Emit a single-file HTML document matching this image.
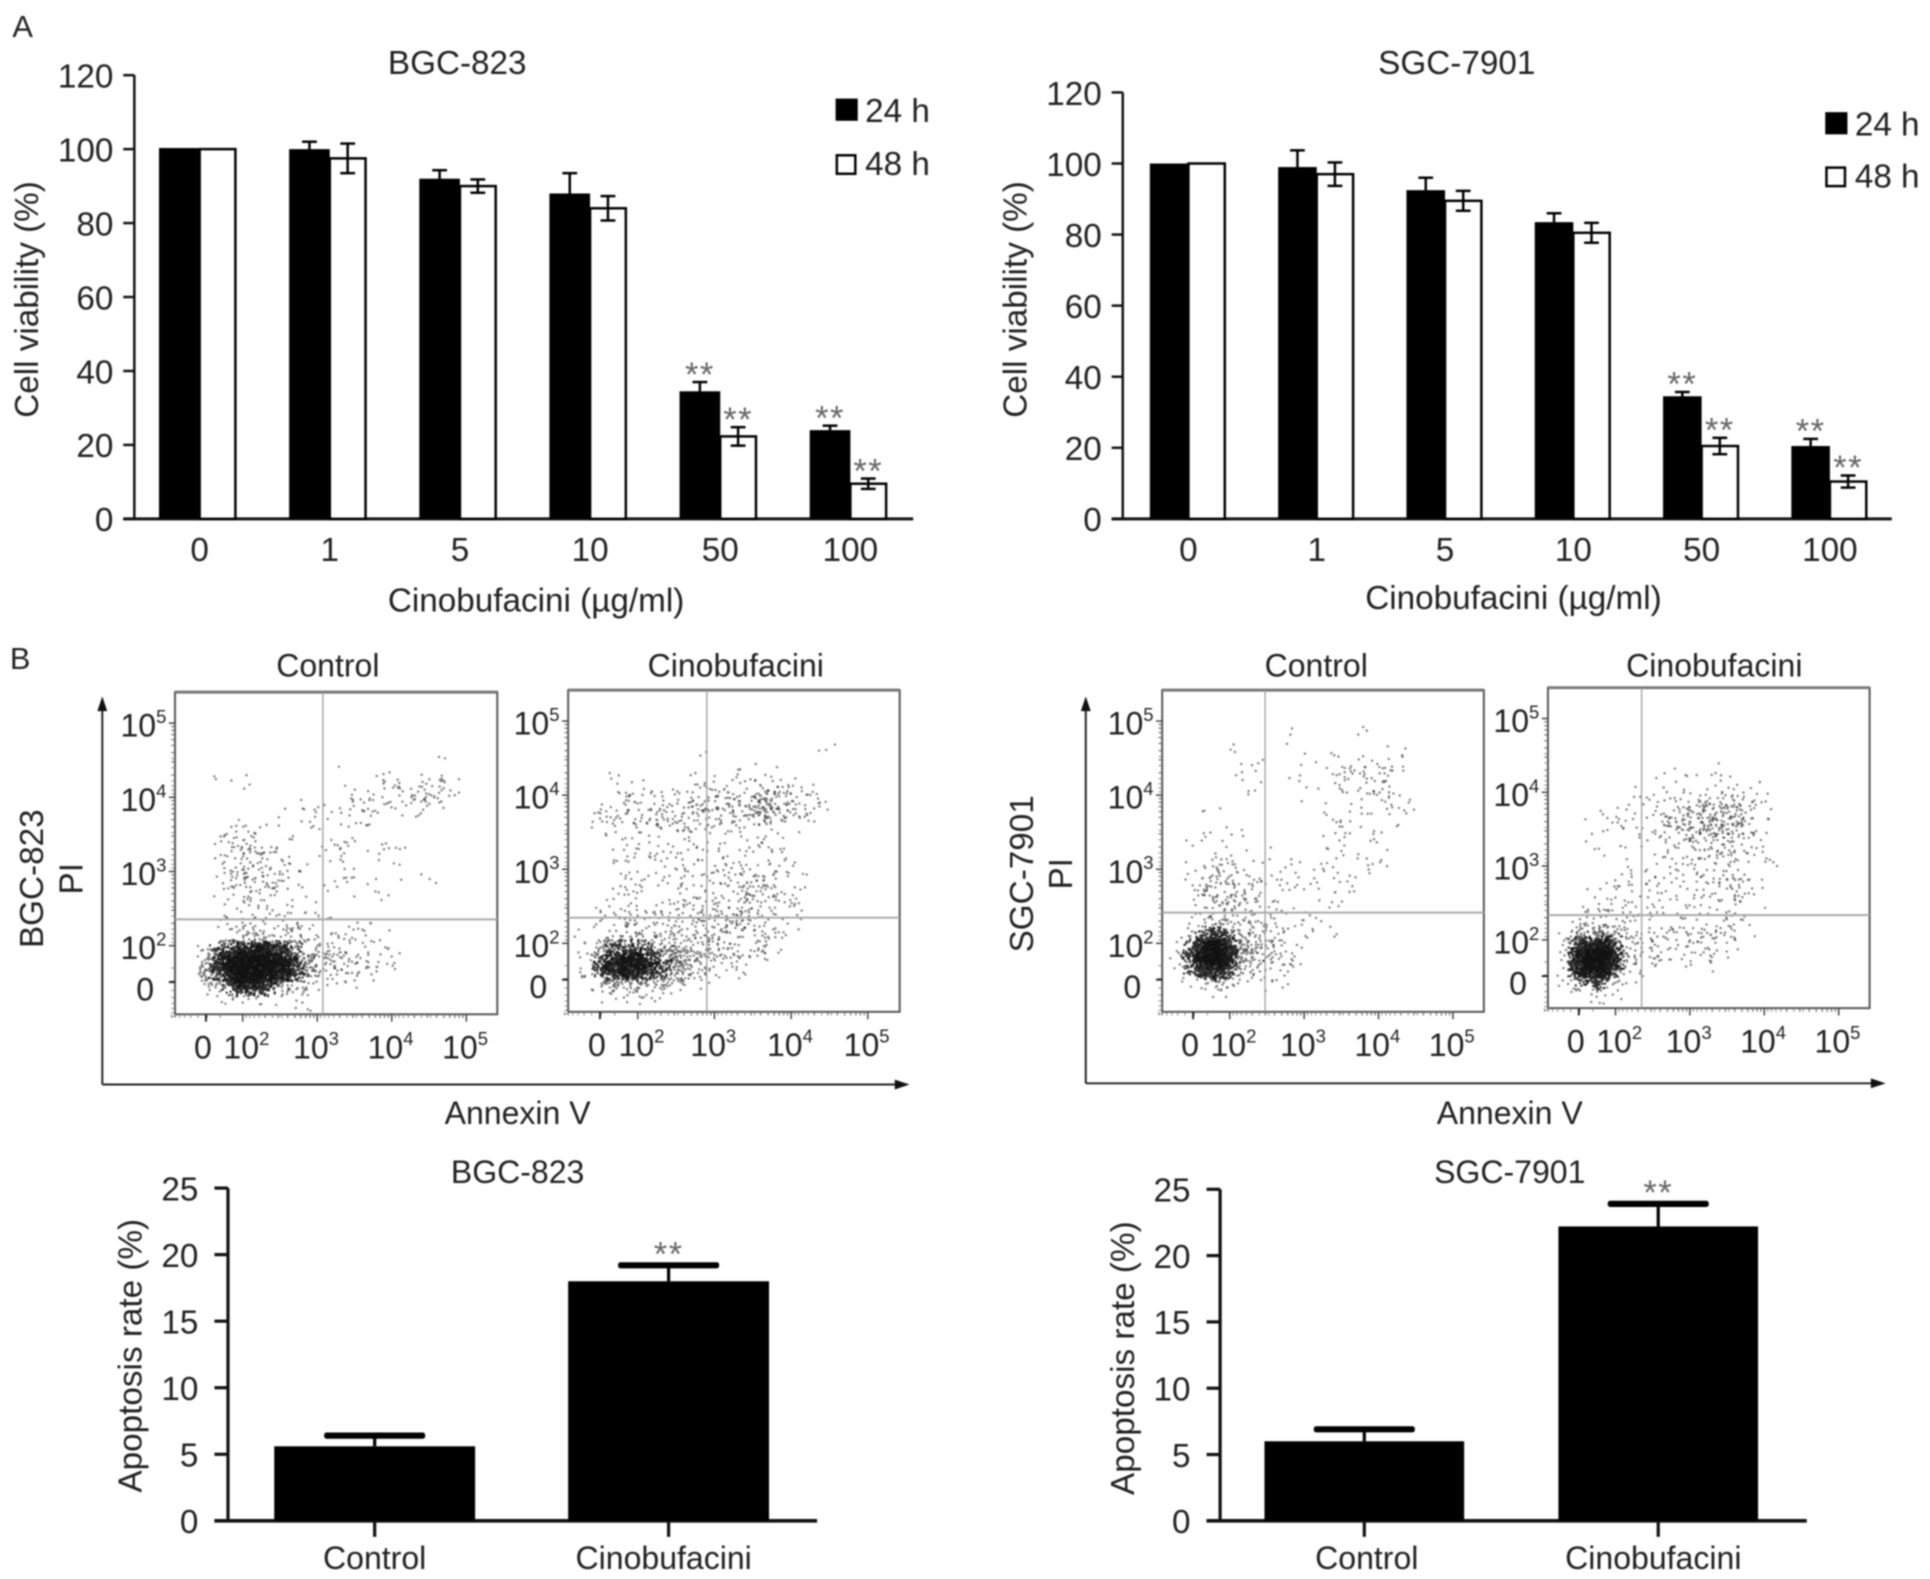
<!DOCTYPE html>
<html lang="en">
<head>
<meta charset="utf-8">
<title>Cinobufacini cell viability and apoptosis</title>
<style>
html,body{margin:0;padding:0;background:#fff;}
#figure{display:block;width:1930px;height:1579px;filter:blur(0.7px);}
text{font-family:"Liberation Sans",sans-serif;fill:#222;}
</style>
</head>
<body>
<svg id="figure" xmlns="http://www.w3.org/2000/svg" width="1930" height="1579" viewBox="0 0 1566 1281.2"></svg>
<script>
// ---- Panel A data ----
const viabilityCategories = ['0','1','5','10','50','100'];
const viabilityTicks = [0,20,40,60,80,100,120];
const bgcViability24 = [100.3,100,92,88,34.5,24];
const bgcViability24Err = [0,2,2.3,5.5,2.5,1.2];
const bgcViability48 = [100,97.5,90,84,22.3,9.5];
const bgcViability48Err = [0,4,1.8,3.3,2.5,1.4];
const sgcViability24 = [100,99,92.5,83.5,34.5,20.5];
const sgcViability24Err = [0,4.7,3.5,2.5,1.2,2];
const sgcViability48 = [100,97,89.5,80.5,20.5,10.5];
const sgcViability48Err = [0,3.3,2.8,2.8,2.3,1.7];
const starredCategories = ['50','100'];

// ---- Lower bar chart data ----
const apoptosisCategories = ['Control','Cinobufacini'];
const apoptosisTicks = [0,5,10,15,20,25];
const bgcApoptosis = [5.6,18];
const bgcApoptosisErr = [0.8,1.2];
const sgcApoptosis = [6,22.2];
const sgcApoptosisErr = [0.9,1.7];

// ---- Flow cytometry: event density read per grid cell (0-9), row by row from top ----
const flowDecades = [2,3,4,5];
const densityLevels = [0,3,6,10,16,26,42,70,160,300];
const bgcControlDensity = ["","","","","",
"00000000000000000001","000101000000100111121","000000000000011222331","00000000011012211121",
"000010010111011","0001221000011","00022221100111011","0002232210011001","0002333211001100101",
"0001222210011011","0000122111","00010111111","000122222111111","0003455432212111",
"00578998754332221","0068999986432221","0046898653211","000122111","00000000001"];
const bgcCinoDensity = ["","","","","0000000000000000001","0000000001",
"0001000001111111","000111111222233221","0012222233333564321","002323333333333221",
"001111111111111","0001111111111111","0001111111111111","00011111112222211",
"00011111112233221","00012111122233221","00132222223332221","00122222223333221",
"0123333333332221","026777665433221","0379987653222","02566543321","00122211",""];
const sgcControlDensity = ["","","000000000000001","0000000001","000001000000000001",
"000001010010111111","000000100010122321","000000100010011221","0000000000001011111",
"000100000000011001","0001110000001101","0010000000001101","00012101010011011",
"0012321101011101","002333211111011","0023332110001","0013332211111","00133322101",
"0058754321101","03899654321","0279843321","003542111","00011",""];
const sgcCinoDensity = ["","","","","","","0000000001001","0000000101111111",
"00000011122333211","0001111123345431","0001111123445442","0001010112333321",
"0000000011122221","00000111111221111","000011111112232","0001111111111121",
"001122211111111","002222111111211","015653221222221","03898432122221","0499942211111",
"02786211","002331",""];

// ---- helpers ----
const NS = 'http://www.w3.org/2000/svg';
const svg = document.getElementById('figure');
function mk(tag, attrs, name, parent) {
  const el = document.createElementNS(NS, tag);
  for (const k in attrs) el.setAttribute(k, attrs[k]);
  
  
  (parent || svg).appendChild(el);
  return el;
}
function txt(s, x, y, size, name, anchor, parent, rot, color) {
  const attrs = {x:x, y:y, 'font-size':size, 'text-anchor':anchor || 'middle'};
  if (rot) attrs.transform = 'rotate(-90 ' + x + ' ' + y + ')';
  if (color) attrs.style = 'fill:' + color;
  const t = mk('text', attrs, name, parent);
  t.textContent = s;
  return t;
}
function line(x1, y1, x2, y2, w, name, parent, color) {
  return mk('line', {x1:x1, y1:y1, x2:x2, y2:y2, stroke:color || '#111', 'stroke-width':w}, name, parent);
}
function stars(x, topY, name, parent) {
  const t = txt('**', x, topY + 3, 28, name, 'middle', parent, false, '#666');
  t.setAttribute('letter-spacing', '1.2');
  return t;
}

// ---- Panel A grouped bars ----
function viabilityChart(o) {
  const g = mk('g', {}, o.name);
  const y = v => o.y0 - v / 120 * (o.y0 - o.y120);
  const groupX = i => o.x0 + i * o.pitch;
  line(o.axisX, o.y120, o.axisX, o.y0, 2, 'y-axis', g);
  line(o.axisX - 9, o.y0, o.xEnd, o.y0, 2.5, 'x-axis', g);
  viabilityTicks.forEach(t => {
    line(o.axisX - 9, y(t), o.axisX, y(t), 2, 'y-tick', g);
    txt(String(t), o.axisX - 17, y(t) + 10, 27, 'y-tick-label', 'end', g);
  });
  viabilityCategories.forEach((c, i) => {
    const x = groupX(i);
    const bw = o.bw, ww = o.ww;
    mk('rect', {x:x, y:y(o.s24[i]), width:bw, height:o.y0 - y(o.s24[i]), fill:'#000'}, 'bar-24h-' + c, g);
    mk('rect', {x:x + bw, y:y(o.s48[i]), width:ww, height:o.y0 - y(o.s48[i]), fill:'#fff', stroke:'#000', 'stroke-width':2}, 'bar-48h-' + c, g);
    [[o.s24, o.e24, x + bw / 2, '24h'], [o.s48, o.e48, x + bw + ww / 2, '48h']].forEach(s => {
      const v = s[0][i], e = s[1][i], cx = s[2];
      if (e > 0) {
        line(cx, y(v + e), cx, y(v - e), 2, 'error-bar-' + s[3] + '-' + c, g, '#000');
        line(cx - 6, y(v + e), cx + 6, y(v + e), 2, 'error-cap-' + s[3] + '-' + c, g, '#000');
        line(cx - 6, y(v - e), cx + 6, y(v - e), 2, 'error-cap-' + s[3] + '-' + c, g, '#000');
      }
      if (starredCategories.indexOf(c) >= 0) stars(cx, y(v + e), 'significance-' + s[3] + '-' + c, g);
    });
    txt(c, x + bw, 455, 27, 'x-tick-label', 'middle', g);
  });
  txt(o.title, o.titleX, 60, 27, 'chart-title', 'middle', g);
  txt('Cinobufacini (\u00b5g/ml)', o.xTitleX, o.xTitleY, 27, 'x-axis-title', 'middle', g);
  txt('Cell viability (%)', o.yTitleX, 243, 27, 'y-axis-title', 'middle', g, true);
  mk('rect', {x:o.legX, y:o.leg1Y, width:18, height:18, fill:'#000'}, 'legend-swatch-24h', g);
  txt('24 h', o.legX + 24, o.leg1Y + 19, 27, 'legend-label-24h', 'start', g);
  mk('rect', {x:o.legX + 1, y:o.leg2Y, width:15, height:15, fill:'#fff', stroke:'#000', 'stroke-width':2}, 'legend-swatch-48h', g);
  txt('48 h', o.legX + 24, o.leg2Y + 16, 27, 'legend-label-48h', 'start', g);
}
viabilityChart({name:'bgc-823-viability-chart', title:'BGC-823', titleX:371, axisX:109, xEnd:741, y0:421, y120:61, x0:129, pitch:105.6, bw:33, ww:29,
  s24:bgcViability24, e24:bgcViability24Err, s48:bgcViability48, e48:bgcViability48Err,
  xTitleX:435, xTitleY:496, yTitleX:31, legX:678, leg1Y:80, leg2Y:126});
viabilityChart({name:'sgc-7901-viability-chart', title:'SGC-7901', titleX:1182, axisX:911, xEnd:1535, y0:421, y120:75, x0:933, pitch:104.1, bw:31.3, ww:29.5,
  s24:sgcViability24, e24:sgcViability24Err, s48:sgcViability48, e48:sgcViability48Err,
  xTitleX:1228, xTitleY:494, yTitleX:833, legX:1481, leg1Y:91, leg2Y:136});

// ---- Flow cytometry panels ----
function power(parent, d, x, y, anchor, name) {
  const t = mk('text', {x:x, y:y, 'font-size':26, 'text-anchor':anchor}, name, parent);
  t.appendChild(document.createTextNode('10'));
  const s = document.createElementNS(NS, 'tspan');
  s.setAttribute('font-size', 15);
  s.setAttribute('dy', -11);
  s.textContent = String(d);
  t.appendChild(s);
}
function flowPanel(o) {
  const g = mk('g', {}, o.name);
  const w = o.x1 - o.x0, h = o.y1 - o.y0;
  const fx = d => o.x0 + w * (0.21 + (d - 2) * 0.2313);
  const fy = d => o.y0 + h * (0.787 - (d - 2) * 0.2303);
  const zx = o.x0 + w * 0.096, zy = o.y0 + h * 0.90;
  // density cells: each digit sets how many dots are spread around its cell
  const rows = o.density.length, cols = 24, cw = w / cols, ch = h / rows;
  o.density.forEach((row, r) => {
    for (let c = 0; c < row.length; c++) {
      const level = +row[c];
      const n = densityLevels[level];
      if (!n) continue;
      let state = (r * 1009 + c * 31 + Math.round(o.x0) * 7919) | 0;
      const step = () => {
        state = (state + 0x6D2B79F5) | 0;
        let t = Math.imul(state ^ (state >>> 15), state | 1);
        t ^= t + Math.imul(t ^ (t >>> 7), t | 61);
        return ((t ^ (t >>> 14)) >>> 0) / 4294967296;
      };
      const spread = () => (step() + step() - 1) * 1.15 + 0.5;
      let d = '';
      for (let k = 0; k < n; k++) {
        const px = o.x0 + (c + spread()) * cw, py = o.y0 + (r + spread()) * ch;
        d += 'M' + px.toFixed(1) + ' ' + py.toFixed(1) + 'h1.7v1.7h-1.7z';
      }
      mk('path', {d:d, fill:'#111', 'fill-opacity':level >= 7 ? 0.85 : 0.55}, 'event-density-cell', g);
    }
  });
  mk('rect', {x:o.x0, y:o.y0, width:w, height:h, fill:'none', stroke:'#555', 'stroke-width':1.6}, 'plot-frame', g);
  line(o.x0, o.y0, o.x1, o.y0, 2.4, 'plot-frame-top', g, '#777');
  line(o.gateX, o.y0, o.gateX, o.y1, 1, 'quadrant-gate-vertical', g, '#999');
  line(o.x0, o.gateY, o.x1, o.gateY, 1.6, 'quadrant-gate-horizontal', g, '#aaa');
  // ticks
  flowDecades.forEach(d => {
    line(fx(d), o.y1, fx(d), o.y1 + 6, 1.2, 'x-major-tick', g, '#444');
    line(o.x0 - 5, fy(d), o.x0, fy(d), 1.2, 'y-major-tick', g, '#444');
    for (let m = 2; m < 10; m++) {
      const off = Math.log10(m);
      if (d < 5) {
        line(fx(d + off), o.y1, fx(d + off), o.y1 + 3, 0.9, 'x-minor-tick', g, '#666');
        line(o.x0 - 3, fy(d + off), o.x0, fy(d + off), 0.9, 'y-minor-tick', g, '#666');
      }
      line(fx(d - off), o.y1, fx(d - off), o.y1 + 3, 0.7, 'x-minor-tick', g, '#777');
      line(o.x0 - 3, fy(d - off), o.x0, fy(d - off), 0.7, 'y-minor-tick', g, '#777');
    }
    power(g, d, fx(d) + (d === 2 ? 3 : -1), o.y1 + 36, 'middle', 'x-tick-label');
    power(g, d, o.x0 - 7, fy(d) + 11, 'end', 'y-tick-label');
  });
  line(zx, o.y1, zx, o.y1 + 6, 1.6, 'x-zero-tick', g, '#222');
  line(o.x0 - 5, zy, o.x0, zy, 1.6, 'y-zero-tick', g, '#222');
  txt('0', zx - 2.5, o.y1 + 36, 26, 'x-tick-label', 'middle', g);
  txt('0', o.x0 - 17, zy + 15, 26, 'y-tick-label', 'end', g);
  txt(o.title, o.titleX, 549, 26, 'panel-title', 'middle', g);
}
flowPanel({name:'bgc-823-control-scatter', title:'Control', titleX:266, x0:142, x1:403.5, y0:561.6, y1:823, gateX:262, gateY:746, density:bgcControlDensity});
flowPanel({name:'bgc-823-cinobufacini-scatter', title:'Cinobufacini', titleX:597, x0:461, x1:730, y0:560, y1:821, gateX:573.5, gateY:744.6, density:bgcCinoDensity});
flowPanel({name:'sgc-7901-control-scatter', title:'Control', titleX:1068, x0:943, x1:1204, y0:560, y1:821, gateX:1026.5, gateY:740.5, density:sgcControlDensity});
flowPanel({name:'sgc-7901-cinobufacini-scatter', title:'Cinobufacini', titleX:1391, x0:1256, x1:1517, y0:558, y1:818, gateX:1332, gateY:742.5, density:sgcCinoDensity});

function flowAxes(ox, oy, tipX, tipY, name) {
  const g = mk('g', {}, name);
  line(ox, tipY + 8, ox, oy, 1.6, 'pi-axis-arrow-line', g, '#222');
  line(ox, oy, tipX - 8, oy, 1.6, 'annexin-axis-arrow-line', g, '#222');
  mk('polygon', {points:[ox, tipY, ox - 4, tipY + 12, ox + 4, tipY + 12].join(' '), fill:'#111'}, 'pi-axis-arrowhead', g);
  mk('polygon', {points:[tipX, oy, tipX - 12, oy - 4, tipX - 12, oy + 4].join(' '), fill:'#111'}, 'annexin-axis-arrowhead', g);
}
flowAxes(83, 880, 738, 565, 'bgc-823-flow-axes');
flowAxes(881, 879, 1530, 565, 'sgc-7901-flow-axes');
txt('Annexin V', 420, 912, 26, 'annexin-axis-title');
txt('Annexin V', 1225, 912, 26, 'annexin-axis-title');
txt('BGC-823', 35, 713, 27, 'cell-line-label', 'middle', null, true);
txt('PI', 67, 713, 27, 'pi-axis-title', 'middle', null, true);
txt('SGC-7901', 838, 709, 27, 'cell-line-label', 'middle', null, true);
txt('PI', 870, 709, 27, 'pi-axis-title', 'middle', null, true);

// ---- Apoptosis bars ----
function apoptosisChart(o) {
  const g = mk('g', {}, o.name);
  const y = v => o.y0 - v / 25 * (o.y0 - o.y25);
  line(o.axisX, o.y25, o.axisX, o.y0, 2.6, 'y-axis', g);
  line(o.axisX - 11, o.y0, o.xEnd, o.y0, 3, 'x-axis', g);
  apoptosisTicks.forEach(t => {
    line(o.axisX - 11, y(t), o.axisX, y(t), 2.6, 'y-tick', g);
    txt(String(t), o.axisX - 24, y(t) + 10, 27, 'y-tick-label', 'end', g);
  });
  apoptosisCategories.forEach((c, i) => {
    const x = o.barX[i], cx = x + o.barW / 2;
    const v = o.values[i], e = o.errs[i];
    mk('rect', {x:x, y:y(v), width:o.barW, height:o.y0 - y(v), fill:'#000'}, 'bar-' + c.toLowerCase(), g);
    line(cx, y(v), cx, y(v + e), 2.6, 'error-bar-' + c.toLowerCase(), g, '#000');
    mk('rect', {x:cx - 41, y:y(v + e) - 2.5, width:82, height:5, rx:2, fill:'#000'}, 'error-cap-' + c.toLowerCase(), g);
    line(cx, o.y0, cx, o.y0 + 13, 2.6, 'x-tick', g);
    txt(c, cx + o.labelShift[i], 1273, 26, 'x-tick-label', 'middle', g);
    if (i === 1) stars(cx, y(v + e) - 3, 'significance-cinobufacini', g);
  });
  txt(o.title, o.titleX, 960, 26, 'chart-title', 'middle', g);
  txt('Apoptosis rate (%)', o.yTitleX, o.yTitleY, 27, 'y-axis-title', 'middle', g, true);
}
apoptosisChart({name:'bgc-823-apoptosis-chart', title:'BGC-823', titleX:420, axisX:185, xEnd:663, y0:1234, y25:964,
  barX:[222.5,461], barW:163, values:bgcApoptosis, errs:bgcApoptosisErr, labelShift:[0,-4], yTitleX:115, yTitleY:1100});
apoptosisChart({name:'sgc-7901-apoptosis-chart', title:'SGC-7901', titleX:1225, axisX:990, xEnd:1466, y0:1234, y25:965,
  barX:[1026,1264.5], barW:162, values:sgcApoptosis, errs:sgcApoptosisErr, labelShift:[2,-4], yTitleX:920, yTitleY:1102});

txt('A', 10, 30, 25, 'panel-label-a', 'start');
txt('B', 8, 543, 25, 'panel-label-b', 'start');
</script>
</body>
</html>
